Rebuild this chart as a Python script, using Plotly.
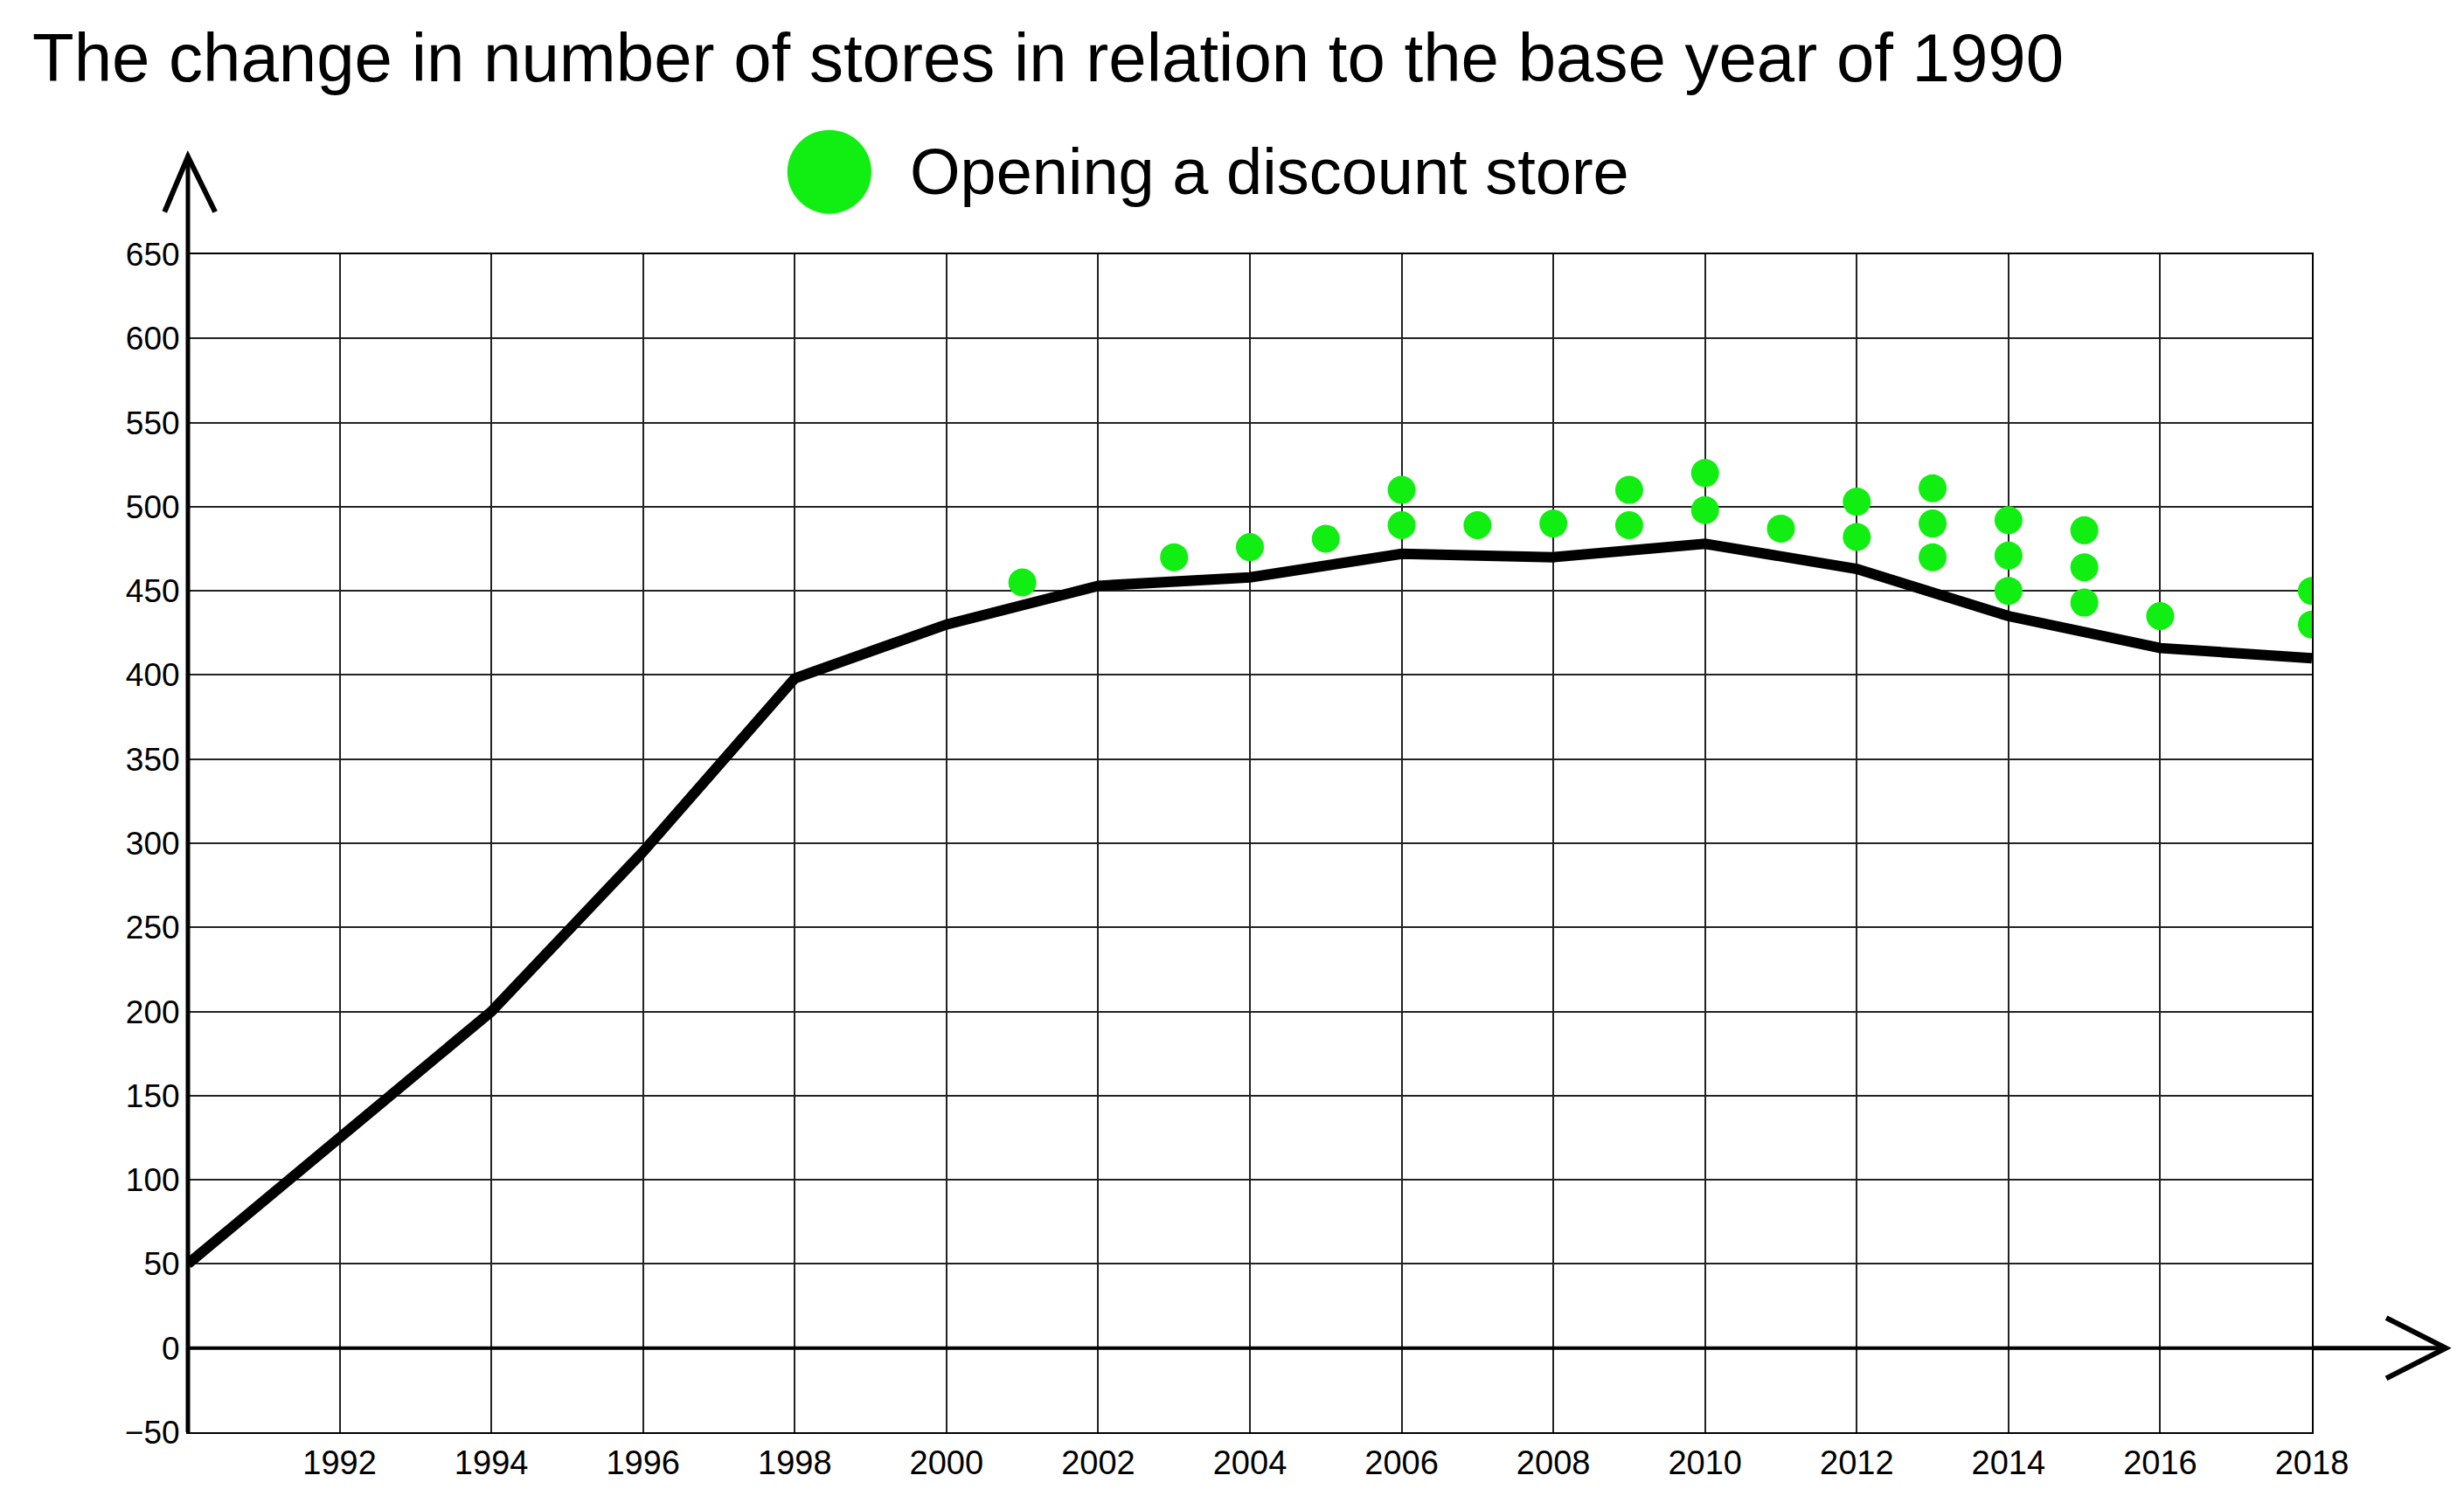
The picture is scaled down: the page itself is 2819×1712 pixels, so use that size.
import plotly.graph_objects as go

years = [1990, 1992, 1994, 1996, 1998, 2000, 2002, 2004, 2006, 2008, 2010, 2012, 2014, 2016, 2018]
stores = [50, 125, 200, 295, 398, 430, 453, 458, 472, 470, 478, 463, 435, 416, 410]
dot_years = [2001, 2003, 2004, 2005, 2006, 2006, 2007, 2008, 2009, 2009, 2010, 2010, 2011,
             2012, 2012, 2013, 2013, 2013, 2014, 2014, 2014, 2015, 2015, 2015, 2016, 2018, 2018]
dot_values = [455, 470, 476, 481, 489, 510, 489, 490, 489, 510, 498, 520, 487,
              482, 503, 470, 490, 511, 450, 471, 492, 443, 464, 486, 435, 430, 450]
x_ticks = list(range(1992, 2019, 2))
y_ticks = list(range(-50, 651, 50))

fig = go.Figure()
fig.add_trace(go.Scatter(x=years, y=stores, mode="lines", line=dict(color="black", width=12), showlegend=False))
fig.add_trace(go.Scatter(x=dot_years, y=dot_values, mode="markers",
                         marker=dict(color="#11ee11", size=32), showlegend=False))

font = "Liberation Sans, Arial, sans-serif"
fig.update_layout(
    width=2819, height=1712, plot_bgcolor="white", paper_bgcolor="white",
    margin=dict(l=207, r=182, t=283, b=81),
    font=dict(family=font, color="black"),
    xaxis=dict(range=[1990, 2018], tickvals=x_ticks, showgrid=True, gridcolor="#222", gridwidth=2,
               zeroline=False, showline=True, linecolor="black", linewidth=2, mirror=True,
               tickfont=dict(size=38)),
    yaxis=dict(range=[-50, 650], tickvals=y_ticks, showgrid=True, gridcolor="#222", gridwidth=2,
               zeroline=False, showline=True, linecolor="black", linewidth=2, mirror=True,
               tickfont=dict(size=37)),
    shapes=[
        dict(type="line", xref="x", yref="y", x0=1990, x1=2018, y0=0, y1=0, line=dict(color="black", width=4)),
        dict(type="line", xref="paper", yref="paper", x0=0, x1=0, y0=0, y1=1.084, line=dict(color="black", width=5)),
        dict(type="path", xref="paper", yref="paper", path="M -0.011 1.036 L 0 1.083 L 0.0128 1.036",
             line=dict(color="black", width=6)),
        dict(type="line", xref="paper", yref="y", x0=1, x1=1.063, y0=0, y1=0, line=dict(color="black", width=5)),
        dict(type="path", xref="paper", yref="y", path="M 1.035 18 L 1.063 0 L 1.035 -18",
             line=dict(color="black", width=6)),
        dict(type="circle", xref="paper", yref="paper", x0=0.302-0.0198, x1=0.302+0.0198,
             y0=1.070-0.0356, y1=1.070+0.0356, fillcolor="#11ee11", line=dict(width=0)),
    ],
    annotations=[
        dict(text="The change in number of stores in relation to the base year of 1990", xref="paper", yref="paper",
             x=(27-207)/2430, y=(1631-58)/1348, xanchor="left", yanchor="middle", showarrow=False,
             font=dict(size=78)),
        dict(text="Opening a discount store", xref="paper", yref="paper", x=0.339, y=1.070,
             xanchor="left", yanchor="middle", showarrow=False, font=dict(size=74)),
    ],
)
fig.write_html("out.html")
